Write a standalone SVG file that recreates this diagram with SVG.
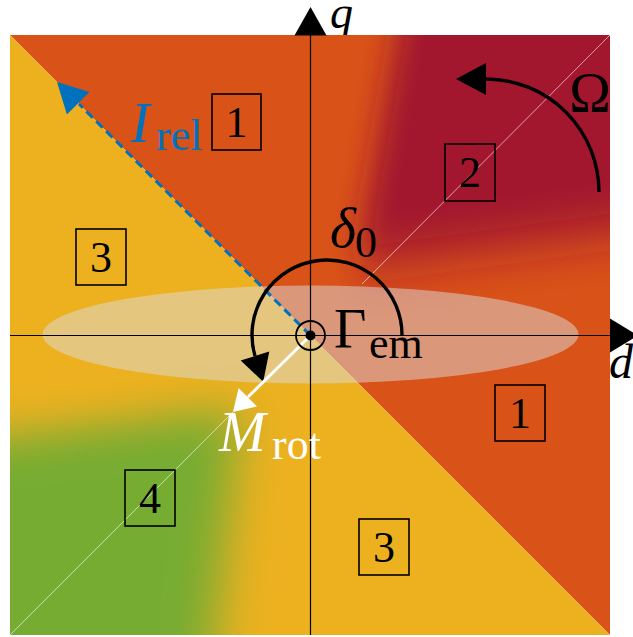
<svg xmlns="http://www.w3.org/2000/svg" width="633" height="637" viewBox="0 0 633 637">
<style>
.lbl{font-family:"Liberation Serif","Times New Roman",serif;fill:#000}
.it{font-style:italic}
.box{fill:none;stroke:#000;stroke-width:1.6}
.dig{font-family:"Liberation Serif","Times New Roman",serif;font-size:44px;text-anchor:middle;fill:#000}
.ax{stroke:#000;stroke-width:1.2;fill:none}
.arc{stroke:#000;stroke-width:3.4;fill:none}
</style>
<defs>
<clipPath id="clipUR"><polygon points="10,35 610,35 610,635"/></clipPath>
<clipPath id="clipLL"><polygon points="10,35 10,635 610,635"/></clipPath>
<filter id="blurR" filterUnits="userSpaceOnUse" x="-200" y="-200" width="1200" height="1200"><feGaussianBlur stdDeviation="15 27"/></filter>
<filter id="blurG" filterUnits="userSpaceOnUse" x="-200" y="-200" width="1200" height="1200"><feGaussianBlur stdDeviation="24 22"/></filter>
</defs>

<g id="label-q"><text class="lbl it" x="330" y="28" font-size="46">q</text></g>

<g id="map">
  <polygon points="10,35 610,35 610,635" fill="#D95319"/>
  <polygon points="10,35 10,635 610,635" fill="#EDB120"/>
  <g clip-path="url(#clipUR)">
    <polygon points="421,-100 900,-100 900,193 356,266" fill="#A2142F" filter="url(#blurR)"/>
  </g>
  <g clip-path="url(#clipLL)">
    <polygon points="-100,449 240,408 198,800 -100,800" fill="#77AC30" filter="url(#blurG)"/>
  </g>
  <line x1="10" y1="635" x2="233" y2="412" stroke="#fff" stroke-width="1" opacity="0.6"/>
  <line x1="362" y1="284" x2="610" y2="35" stroke="#fff" stroke-width="1" opacity="0.6"/>
</g>

<g id="ellipse"><ellipse cx="310.5" cy="334.5" rx="268" ry="49" fill="#dcdcdc" opacity="0.5"/></g>

<g id="axes">
  <line class="ax" x1="310.5" y1="35" x2="310.5" y2="635"/>
  <line class="ax" x1="10" y1="335.5" x2="610" y2="335.5"/>
  <polygon points="310.5,7 294.5,35.5 326.5,35.5" fill="#000"/>
  <polygon points="610,318.5 610,352.5 638,335.5" fill="#000"/>
</g>
<g id="label-d"><text class="lbl it" x="609" y="378" font-size="48">d</text></g>

<g id="box1a"><rect class="box" x="212" y="94" width="49" height="56"/><text class="dig" x="236.5" y="136.5">1</text></g>
<g id="box3a"><rect class="box" x="76" y="229" width="50" height="56"/><text class="dig" x="101" y="271.5">3</text></g>
<g id="box2"><rect class="box" x="445" y="144" width="50" height="57"/><text class="dig" x="470" y="187">2</text></g>
<g id="box1b"><rect class="box" x="495" y="385" width="50" height="56"/><text class="dig" x="520" y="427.5">1</text></g>
<g id="box3b"><rect class="box" x="359" y="519" width="50" height="56"/><text class="dig" x="384" y="561.5">3</text></g>
<g id="box4"><rect class="box" x="125" y="470" width="50" height="56"/><text class="dig" x="150" y="512.5">4</text></g>

<g id="connectors">
  <line x1="310.5" y1="335.5" x2="79" y2="104" stroke="#0072BD" stroke-width="3" stroke-dasharray="9 5"/>
  <polygon points="57,82 89.5,91.9 66.9,114.5" fill="#0072BD"/>
  <path class="arc" d="M402,335.5 A75,75 0 1 0 255,356"/>
  <polygon points="263.2,381.7 269.3,351.4 240.7,360.6" fill="#000"/>
  <path class="arc" d="M599,192 A113,113 0 0 0 486,79"/>
  <polygon points="456,79 486,63 486,95" fill="#000"/>
  <line x1="310.5" y1="335.5" x2="248" y2="397" stroke="#fff" stroke-width="3"/>
  <polygon points="233,412 257,406.4 238.6,388" fill="#fff"/>
</g>

<g id="center">
  <circle cx="310.5" cy="335.5" r="14.5" fill="none" stroke="#000" stroke-width="1.8"/>
  <circle cx="310.5" cy="335.5" r="5" fill="#000"/>
</g>

<g id="label-Irel">
  <text class="lbl it" x="131" y="142" font-size="56" style="fill:#0072BD">I</text>
  <text class="lbl" x="156" y="150" font-size="44" style="fill:#0072BD">rel</text>
</g>
<g id="label-delta0">
  <text class="lbl it" x="330" y="247" font-size="56">δ</text>
  <text class="lbl" x="355" y="257" font-size="44">0</text>
</g>
<g id="label-Omega"><text class="lbl" x="590" y="112" font-size="56" text-anchor="middle">Ω</text></g>
<g id="label-Gamma">
  <text class="lbl" x="334" y="348" font-size="56">Γ</text>
  <text class="lbl" x="369" y="358" font-size="44">em</text>
</g>
<g id="label-Mrot">
  <text class="lbl it" x="219" y="451" font-size="56" style="fill:#fff">M</text>
  <text class="lbl" x="272" y="459" font-size="44" style="fill:#fff">rot</text>
</g>
</svg>
